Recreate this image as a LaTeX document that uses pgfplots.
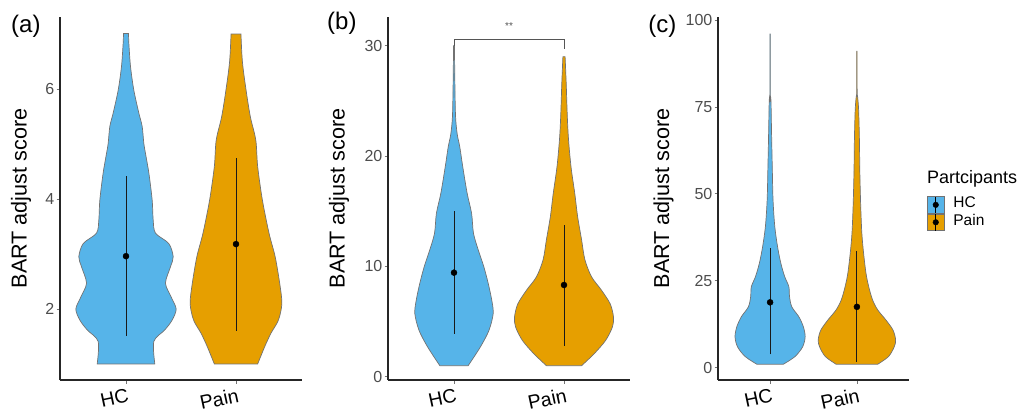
\documentclass[border=0pt]{standalone}
\usepackage{fontspec}
\setmainfont{Liberation Sans}
\usepackage{pgfplots}
\usepackage{pgfplotstable}
\pgfplotsset{compat=1.18}
\usepgfplotslibrary{fillbetween}
\definecolor{hcblue}{HTML}{56B4E9}
\definecolor{painorange}{HTML}{E69F00}
\definecolor{vgray}{HTML}{727272}
\definecolor{ticktxt}{HTML}{4D4D4D}
\definecolor{brgray}{HTML}{555555}

% violin profiles: y value, half width (x units)
\pgfplotstableread{
y hw
1.00 0.262
1.41 0.253
1.62 0.353
1.80 0.420
2.00 0.456
2.22 0.410
2.47 0.359
2.77 0.405
2.95 0.429
3.19 0.389
3.38 0.268
3.62 0.247
3.98 0.238
4.47 0.208
4.83 0.177
5.01 0.162
5.32 0.147
5.56 0.117
5.98 0.071
6.41 0.041
6.83 0.026
7.01 0.023
}\aHC
\pgfplotstableread{
y hw
1.00 0.197
1.32 0.262
1.56 0.318
1.80 0.386
2.10 0.417
2.47 0.397
2.95 0.356
3.38 0.300
3.98 0.240
4.59 0.197
5.07 0.180
5.50 0.130
6.00 0.090
6.50 0.058
7.00 0.045
}\aPain
\pgfplotstableread{
y hw
1.0 0.129
2.7 0.240
4.2 0.318
5.7 0.356
6.9 0.344
8.5 0.310
10.0 0.270
11.5 0.220
13.0 0.177
14.8 0.160
16.6 0.120
19.0 0.080
20.8 0.053
22.0 0.029
23.6 0.014
26.6 0.008
30.0 0.004
}\bHC
\pgfplotstableread{
y hw
1.0 0.160
2.1 0.276
3.3 0.379
4.5 0.440
5.4 0.450
6.6 0.420
7.85 0.340
9.06 0.250
10.6 0.190
12.4 0.160
14.5 0.124
16.6 0.098
19.0 0.064
21.5 0.041
23.6 0.030
26.6 0.020
29.0 0.010
}\bPain
\pgfplotstableread{
y hw
1.0 0.153
3.2 0.287
6.0 0.375
8.9 0.404
11.8 0.383
14.7 0.330
17.5 0.250
20.4 0.224
23.3 0.216
26.2 0.168
30.0 0.124
34.8 0.086
40.6 0.054
48.2 0.034
57.8 0.025
67.4 0.017
77.0 0.010
78.0 0.003
96.0 0.002
}\cHC
\pgfplotstableread{
y hw
1.0 0.240
3.2 0.364
6.0 0.430
8.0 0.446
10.8 0.416
13.7 0.335
16.6 0.240
19.5 0.180
23.3 0.136
27.1 0.105
32.9 0.077
38.6 0.057
46.3 0.044
55.9 0.034
65.5 0.029
74.1 0.020
78.0 0.008
79.0 0.003
91.0 0.002
}\cPain

\pgfplotsset{
  violinpanel/.style={
    scale only axis, height=363pt,
    axis lines*=left,
    axis line style={line width=1.1pt, black!85},
    tick align=outside,
    major tick length=3.5pt,
    tick style={line width=0.8pt, black!55},
    xtick pos=bottom, ytick pos=left,
    xmin=0.4, xmax=2.6,
    xtick={1,2}, xticklabels={HC,Pain},
    xticklabel style={font=\fontsize{19.5}{20}\selectfont, rotate=12, anchor=north east, inner sep=1pt, yshift=-3.3pt, xshift=1pt, text=black},
    yticklabel style={font=\fontsize{16}{17}\selectfont, text=ticktxt, inner sep=2pt},
    /pgf/number format/assume math mode=true,
    ylabel={BART adjust score},
    clip=false,
  },
  vside/.style={draw=none, smooth, tension=0.5, forget plot},
  vfill/.style={fill=#1, draw=vgray, line width=0.7pt, forget plot},
  prange/.style={black!90, line width=0.85pt, forget plot},
  pmean/.style={only marks, mark=*, mark size=3pt, black, forget plot},
}

\begin{document}
\begin{tikzpicture}

% ---------- (a)
\begin{axis}[violinpanel, at={(60pt,33pt)}, anchor=south west, width=242pt,
  ymin=0.709, ymax=7.309, ytick={2,4,6},
  ylabel style={at={(axis description cs:-0.161,0.5)}, anchor=center, font=\fontsize{21.6}{22}\selectfont}]
\addplot[vside, name path=aHR] table[x expr=1+\thisrow{hw}, y=y] {\aHC};
\addplot[vside, name path=aHL] table[x expr=1-\thisrow{hw}, y=y] {\aHC};
\addplot[vfill=hcblue] fill between[of=aHR and aHL, reverse=true];
\addplot[vside, name path=aPR] table[x expr=2+\thisrow{hw}, y=y] {\aPain};
\addplot[vside, name path=aPL] table[x expr=2-\thisrow{hw}, y=y] {\aPain};
\addplot[vfill=painorange] fill between[of=aPR and aPL, reverse=true];
\addplot[prange] coordinates {(1,1.515) (1,4.42)};
\addplot[pmean] coordinates {(1,2.96)};
\addplot[prange] coordinates {(2,1.60) (2,4.75)};
\addplot[pmean] coordinates {(2,3.18)};
\node[anchor=west, inner sep=0pt, font=\fontsize{24}{25}\selectfont] at (axis description cs:-0.2025,0.975) {(a)};
\end{axis}

% ---------- (b)
\begin{axis}[violinpanel, at={(388pt,33pt)}, anchor=south west, width=242pt,
  ymin=-0.30, ymax=32.6, ytick={0,10,20,30},
  ylabel style={at={(axis description cs:-0.2025,0.5)}, anchor=center, font=\fontsize{21.6}{22}\selectfont}]
\addplot[vside, name path=bHR] table[x expr=1+\thisrow{hw}, y=y] {\bHC};
\addplot[vside, name path=bHL] table[x expr=1-\thisrow{hw}, y=y] {\bHC};
\addplot[vfill=hcblue] fill between[of=bHR and bHL, reverse=true];
\addplot[vside, name path=bPR] table[x expr=2+\thisrow{hw}, y=y] {\bPain};
\addplot[vside, name path=bPL] table[x expr=2-\thisrow{hw}, y=y] {\bPain};
\addplot[vfill=painorange] fill between[of=bPR and bPL, reverse=true];
\addplot[prange] coordinates {(1,3.87) (1,15.0)};
\addplot[pmean] coordinates {(1,9.43)};
\addplot[prange] coordinates {(2,2.81) (2,13.75)};
\addplot[pmean] coordinates {(2,8.31)};
\addplot[brgray, line width=0.9pt, forget plot] coordinates {(1,30.0) (1,30.55) (2,30.55) (2,29.7)};
\node[font=\fontsize{10}{11}\selectfont, text=brgray] at (axis cs:1.5,31.75) {**};
\node[anchor=west, inner sep=0pt, font=\fontsize{24}{25}\selectfont] at (axis description cs:-0.252,0.983) {(b)};
\end{axis}

% ---------- (c)
\begin{axis}[violinpanel, at={(718pt,33pt)}, anchor=south west, width=191pt,
  ymin=-3.54, ymax=100.86, ytick={0,25,50,75,100},
  ylabel style={at={(axis description cs:-0.285,0.5)}, anchor=center, font=\fontsize{21.6}{22}\selectfont},
  legend style={at={(axis description cs:1.094,0.507)}, anchor=north west, draw=none, fill=none,
    inner sep=0pt, row sep=0pt, font=\fontsize{15.5}{16}\selectfont,
    nodes={inner sep=0pt, text height=11pt, text depth=5.5pt},
    /tikz/every odd column/.style={column sep=9pt}},
  legend cell align=left]
\addplot[vside, name path=cHR] table[x expr=1+\thisrow{hw}, y=y] {\cHC};
\addplot[vside, name path=cHL] table[x expr=1-\thisrow{hw}, y=y] {\cHC};
\addplot[vfill=hcblue] fill between[of=cHR and cHL, reverse=true];
\addplot[vside, name path=cPR] table[x expr=2+\thisrow{hw}, y=y] {\cPain};
\addplot[vside, name path=cPL] table[x expr=2-\thisrow{hw}, y=y] {\cPain};
\addplot[vfill=painorange] fill between[of=cPR and cPL, reverse=true];
\addplot[prange] coordinates {(1,3.84) (1,34.3)};
\addplot[pmean] coordinates {(1,18.8)};
\addplot[prange] coordinates {(2,1.73) (2,33.65)};
\addplot[pmean] coordinates {(2,17.5)};
\addlegendimage{legend image code/.code={
  \draw[fill=hcblue, draw=vgray, line width=0.7pt] (0pt,-8.25pt) rectangle (16.5pt,8.25pt);
  \draw[black, line width=0.9pt] (8.25pt,-8.25pt) -- (8.25pt,8.25pt);
  \fill[black] (8.25pt,0pt) circle (2.8pt);}}
\addlegendentry{HC}
\addlegendimage{legend image code/.code={
  \draw[fill=painorange, draw=vgray, line width=0.7pt] (0pt,-8.25pt) rectangle (16.5pt,8.25pt);
  \draw[black, line width=0.9pt] (8.25pt,-8.25pt) -- (8.25pt,8.25pt);
  \fill[black] (8.25pt,0pt) circle (2.8pt);}}
\addlegendentry{Pain}
\node[anchor=base west, inner sep=0pt, font=\fontsize{18}{19}\selectfont] at (axis description cs:1.094,0.5427) {Partcipants};
\node[anchor=west, inner sep=0pt, font=\fontsize{24}{25}\selectfont] at (axis description cs:-0.366,0.974) {(c)};
\end{axis}
\pgfresetboundingbox
\useasboundingbox (0,0) rectangle (1021pt,413pt);
\end{tikzpicture}
\end{document}
